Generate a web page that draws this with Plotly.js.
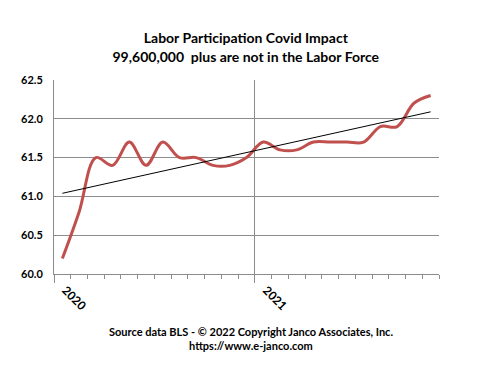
<!DOCTYPE html>
<html>
<head>
<meta charset="utf-8">
<script src="https://cdn.plot.ly/plotly-3.0.1.min.js"></script>
<style>html,body{margin:0;padding:0;background:#fff;}#chart{width:482px;height:374px;}</style>
</head>
<body>
<div id="chart"></div>
<script>
// Monthly categories, Jan 2020 .. Nov 2021
const months = ["Jan 2020","Feb 2020","Mar 2020","Apr 2020","May 2020","Jun 2020","Jul 2020","Aug 2020","Sep 2020","Oct 2020","Nov 2020","Dec 2020",
                "Jan 2021","Feb 2021","Mar 2021","Apr 2021","May 2021","Jun 2021","Jul 2021","Aug 2021","Sep 2021","Oct 2021","Nov 2021"];
const participation = [60.2, 60.8, 61.5, 61.4, 61.7, 61.4, 61.7, 61.5, 61.5, 61.4, 61.4, 61.5,
                       61.7, 61.6, 61.6, 61.7, 61.7, 61.7, 61.7, 61.9, 61.9, 62.2, 62.3];
// Linear trendline end values
const trendValues = [61.04, 62.09];
const yearLabels = ["2020", "2021"];
const yearStartMonths = ["Jan 2020", "Jan 2021"];

const idx = months.map((m, i) => i);
const yearIdx = yearStartMonths.map(m => months.indexOf(m));
const trendX = [0, months.length - 1];

const font = "Lato, 'Open Sans', sans-serif";
const grid = "#8c8c8c";

const traces = [
  {x: idx, y: participation, type: "scatter", mode: "lines", xaxis: "x", yaxis: "y",
   line: {color: "#C0504D", width: 3, shape: "spline", smoothing: 1}, hoverinfo: "skip"},
  {x: trendX, y: trendValues, type: "scatter", mode: "lines", xaxis: "x2", yaxis: "y",
   line: {color: "#000000", width: 1}, hoverinfo: "skip"},
  {x: [], y: [], type: "scatter", mode: "lines", xaxis: "x3", yaxis: "y", hoverinfo: "skip"}
];

const xr = [-0.5, months.length - 0.5];
const layout = {
  width: 482, height: 374,
  margin: {l: 54, r: 43, t: 80, b: 100},
  paper_bgcolor: "#fff", plot_bgcolor: "#fff",
  showlegend: false,
  font: {family: font, color: "#000", size: 11},
  title: {text: "<b>Labor Participation Covid Impact<br>99,600,000  plus are not in the Labor Force</b>",
          font: {family: font, size: 14, color: "#000"}, x: 0.51, xanchor: "center", y: 0.884, yanchor: "top"},
  xaxis: {range: xr, tickmode: "linear", tick0: -0.5, dtick: 1, ticks: "outside", ticklen: 4,
          tickcolor: grid, tickwidth: 1, showticklabels: false, showgrid: false, zeroline: false,
          showline: true, linecolor: grid, linewidth: 1, fixedrange: true},
  xaxis2: {overlaying: "x", side: "bottom", anchor: "y", range: xr, tickmode: "array",
           tickvals: yearIdx, ticktext: yearLabels, tickangle: 45, ticks: "", showgrid: false,
           ticklabelstandoff: 6, ticklabelshift: 3,
           zeroline: false, showline: false, tickfont: {family: font, size: 12, color: "#000", weight: "bold"}},
  xaxis3: {overlaying: "x", side: "bottom", anchor: "y", range: xr, tickmode: "array",
           tickvals: yearIdx.map(i => i - 0.5), ticks: "outside", ticklen: 8, tickcolor: grid,
           showticklabels: false, showgrid: true, gridcolor: grid, gridwidth: 1, zeroline: false, showline: false},
  yaxis: {range: [60, 62.5], tickmode: "linear", tick0: 60, dtick: 0.5, tickformat: ".1f",
          showgrid: true, gridcolor: grid, gridwidth: 1, zeroline: false, showline: true,
          linecolor: grid, ticks: "", ticklabelstandoff: 8,
          tickfont: {family: font, size: 11, color: "#000", weight: "bold"}},
  annotations: [
    {text: "<b>Source data BLS - © 2022 Copyright Janco Associates, Inc.</b>", xref: "paper", yref: "paper",
     x: 0.512, y: -0.294, xanchor: "center", yanchor: "middle", showarrow: false, font: {family: font, size: 11, color: "#000"}},
    {text: "<b>https://www.e-janco.com</b>", xref: "paper", yref: "paper",
     x: 0.512, y: -0.371, xanchor: "center", yanchor: "middle", showarrow: false, font: {family: font, size: 11, color: "#000"}}
  ]
};

Plotly.newPlot("chart", traces, layout, {staticPlot: true, displayModeBar: false});
</script>
</body>
</html>
